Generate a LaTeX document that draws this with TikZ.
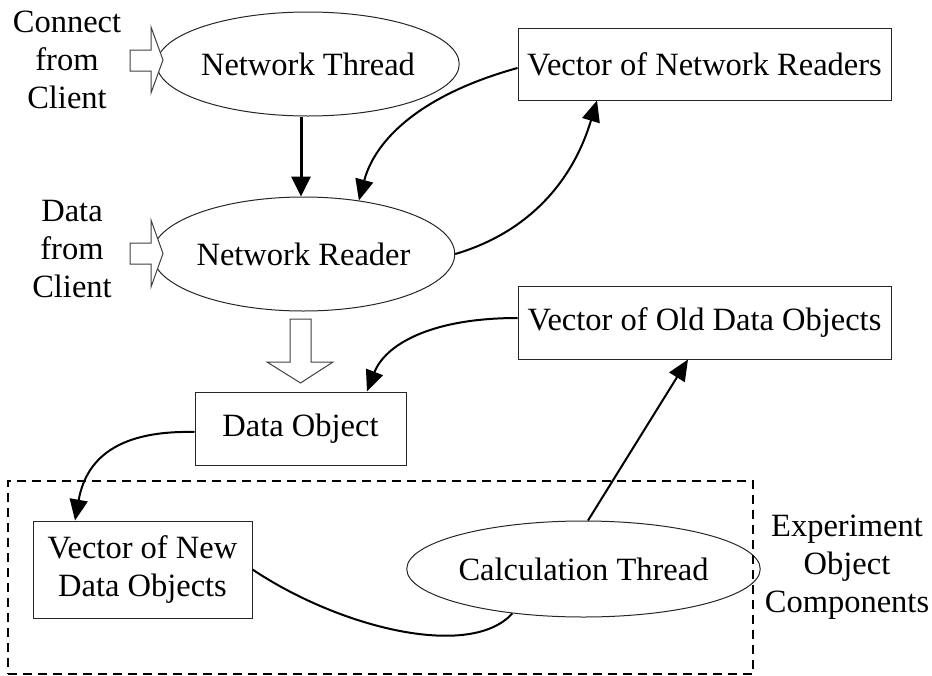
\documentclass[tikz,border=0pt]{standalone}
\usepackage{fontspec}
\setmainfont{Liberation Serif}
\usetikzlibrary{arrows.meta,shapes.geometric}
\tikzset{
  lbl/.style={font=\fontsize{32.5}{38}\selectfont, inner sep=0pt},
  oval/.style={lbl, draw=black!85, line width=1pt, ellipse},
  boxnode/.style={lbl, draw=black!85, line width=1pt, rectangle},
  textlbl/.style={lbl, align=center},
  conn/.style={line width=2pt, -{Triangle[length=21pt,width=18pt]}},
  plain/.style={line width=2pt},
  thickconn/.style={line width=3pt, -{Triangle[length=20pt,width=19pt]}},
  blockarrow/.style={draw=black!75, line width=1pt, fill=white, line join=miter},
  groupbox/.style={draw, dashed, line width=1.5pt, dash pattern=on 9pt off 6pt}
}
\begin{document}
\begin{tikzpicture}[x=1pt, y=-1pt]
\useasboundingbox (0,0) rectangle (932,675);

% threads and containers
\node[oval, minimum width=276pt, minimum height=104pt] (nt) at (308,64) {Network Thread};
\node[oval, minimum width=267pt, minimum height=114pt] (nr) at (303.5,254) {Network Reader};
\node[boxnode, minimum width=373pt, minimum height=72pt] (vnr) at (704.5,64) {Vector of Network Readers};
\node[boxnode, minimum width=373pt, minimum height=73pt] (vod) at (704.5,322.5) {Vector of Old Data Objects};
\node[boxnode, minimum width=211pt, minimum height=73pt] (dobj) at (300.5,428.5) {Data Object};
\node[boxnode, minimum width=219pt, minimum height=97pt, align=center] (vnew) at (142.5,569.5) {Vector of New\\Data Objects};
\node[oval, minimum width=307pt, minimum height=96pt] (calc) at (583.5,569) {Calculation Thread};

% experiment object group
\node[groupbox, minimum width=745pt, minimum height=193pt, inner sep=0pt] (expbox) at (380.5,577.5) {};
\node[textlbl] (explbl) at (847,567.5) {Experiment\\Object\\Components};

% inputs from the client
\node[textlbl] (connlbl) at (67,60) {Connect\\from\\Client};
\node[textlbl] (datalbl) at (72,249) {Data\\from\\Client};

% hollow block arrows
\draw[blockarrow] (130,50) -- (151,50) -- (151,27) -- (163,60) -- (151,93) -- (151,71) -- (130,71) -- cycle;
\draw[blockarrow] (130,243) -- (151,243) -- (151,220) -- (163,253.5) -- (151,287) -- (151,264) -- (130,264) -- cycle;
\draw[blockarrow] (290,319) -- (311,319) -- (311,362) -- (333,362) -- (300.5,383) -- (267,362) -- (290,362) -- cycle;

% connectors
\draw[thickconn] ([xshift=-7pt]nt.south) -- ([xshift=-2.5pt]nr.north);
\draw[conn] ([yshift=-4pt]vnr.west) .. controls (420,95) and (375,140) .. (nr.44);
\draw[conn] (nr.east) .. controls (520,235) and (570,190) .. ([xshift=-107.5pt]vnr.south);
\draw[conn] ([yshift=4.5pt]vod.west) .. controls (430,318) and (385,345) .. ([xshift=66.5pt]dobj.north);
\draw[conn] ([yshift=-3.5pt]dobj.west) .. controls (110,430) and (85,465) .. ([xshift=-67.5pt]vnew.north);
\draw[plain] (vnew.east) .. controls (340,628) and (470,660) .. (calc.212);
\draw[conn] ([xshift=4.5pt]calc.north) -- ([xshift=-16.5pt]vod.south);
\end{tikzpicture}
\end{document}
